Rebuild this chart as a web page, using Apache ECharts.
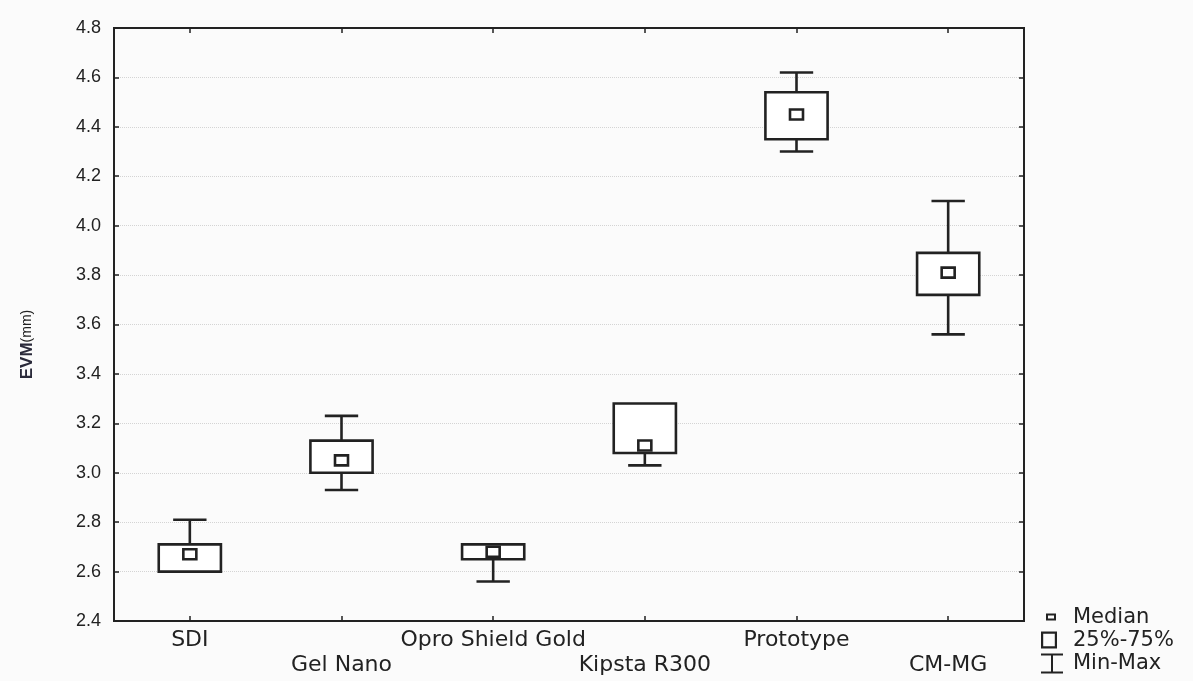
<!DOCTYPE html>
<html>
<head>
<meta charset="utf-8">
<script src="https://cdn.jsdelivr.net/npm/echarts@6/dist/echarts.min.js"></script>
<style>
html,body{margin:0;padding:0;background:#fbfbfb;}
#chart{width:1193px;height:681px;}
</style>
</head>
<body>
<div id="chart"></div>
<script>
const categories = ['SDI', 'Gel Nano', 'Opro Shield Gold', 'Kipsta R300', 'Prototype', 'CM-MG'];
const minVals    = [2.60, 2.93, 2.56, 3.03, 4.30, 3.56];
const q1Vals     = [2.60, 3.00, 2.65, 3.08, 4.35, 3.72];
const medianVals = [2.67, 3.05, 2.68, 3.11, 4.45, 3.81];
const q3Vals     = [2.71, 3.13, 2.71, 3.28, 4.54, 3.89];
const maxVals    = [2.81, 3.23, 2.71, 3.28, 4.62, 4.10];
const yTicks = { min: 2.4, max: 4.8, interval: 0.2 };

const INK = '#222';
const LW = 2.6;

const boxData = categories.map((c, i) => [i, q1Vals[i], q3Vals[i]]);
const whiskerData = categories.map((c, i) => [i, minVals[i], q1Vals[i], q3Vals[i], maxVals[i]]);
const medianData = categories.map((c, i) => [i, medianVals[i]]);

function renderBox(params, api) {
  const i = api.value(0);
  const top = api.coord([i, api.value(2)]);
  const bot = api.coord([i, api.value(1)]);
  const w = api.size([1, 0])[0] * 0.41;
  return {
    type: 'rect',
    shape: { x: top[0] - w / 2, y: top[1], width: w, height: bot[1] - top[1] },
    style: { fill: '#fff', stroke: INK, lineWidth: LW }
  };
}

function renderWhisker(params, api) {
  const i = api.value(0);
  const pMin = api.coord([i, api.value(1)]);
  const pQ1 = api.coord([i, api.value(2)]);
  const pQ3 = api.coord([i, api.value(3)]);
  const pMax = api.coord([i, api.value(4)]);
  const cw = api.size([1, 0])[0] * 0.22;
  const x = pMin[0];
  const children = [];
  const st = { stroke: INK, lineWidth: LW, fill: 'none' };
  if (api.value(4) > api.value(3)) {
    children.push({ type: 'line', shape: { x1: x, y1: pQ3[1], x2: x, y2: pMax[1] }, style: st });
    children.push({ type: 'line', shape: { x1: x - cw / 2, y1: pMax[1], x2: x + cw / 2, y2: pMax[1] }, style: st });
  }
  if (api.value(1) < api.value(2)) {
    children.push({ type: 'line', shape: { x1: x, y1: pQ1[1], x2: x, y2: pMin[1] }, style: st });
    children.push({ type: 'line', shape: { x1: x - cw / 2, y1: pMin[1], x2: x + cw / 2, y2: pMin[1] }, style: st });
  }
  return { type: 'group', children: children };
}

function renderMedian(params, api) {
  const i = api.value(0);
  const p = api.coord([i, api.value(1)]);
  const w = 13, h = 10;
  return {
    type: 'rect',
    shape: { x: p[0] - w / 2, y: p[1] - h / 2, width: w, height: h },
    style: { fill: '#fff', stroke: INK, lineWidth: LW }
  };
}

const chart = echarts.init(document.getElementById('chart'));
const font = 'Liberation Sans, Arial, sans-serif';
const wideFont = 'DejaVu Sans, Liberation Sans, sans-serif';

chart.setOption({
  backgroundColor: '#fbfbfb',
  animation: false,
  textStyle: { fontFamily: font },
  grid: { left: 114, right: 169, top: 28, bottom: 60, show: true, borderColor: INK, borderWidth: 2, backgroundColor: 'transparent' },
  legend: {
    orient: 'vertical',
    left: 1040,
    top: 607,
    height: 72,
    itemWidth: 28,
    itemHeight: 20,
    itemGap: 2,
    padding: 0,
    textStyle: { fontSize: 21, lineHeight: 20, color: '#222', fontFamily: wideFont },
    data: [
      { name: 'Median', icon: 'path://M0,0L0,0M28,20L28,20M6,6H16V13H6Z M8,8V11H14V8Z' },
      { name: '25%-75%', icon: 'path://M0,0L0,0M28,20L28,20M1,1H17V18H1Z M3.2,3.2V15.8H14.8V3.2Z' },
      { name: 'Min-Max', icon: 'path://M0,0L0,0M28,20L28,20M1,0H23V2H13V18H23V20H1V18H11V2H1Z' }
    ]
  },
  xAxis: [
    {
      type: 'category',
      data: categories,
      boundaryGap: true,
      axisLine: { show: true, lineStyle: { color: INK, width: 2 } },
      axisTick: { show: true, inside: true, alignWithLabel: true, length: 5, lineStyle: { color: INK, width: 1.5 } },
      axisLabel: {
        interval: 0,
        margin: 7,
        fontSize: 22,
        lineHeight: 25,
        color: '#222',
        fontFamily: wideFont,
        formatter: function (v, i) { return i % 2 ? '\n' + v : v; }
      },
      splitLine: { show: false }
    },
    {
      type: 'category',
      data: categories,
      position: 'top',
      boundaryGap: true,
      axisLine: { show: true, lineStyle: { color: INK, width: 2 } },
      axisTick: { show: true, inside: true, alignWithLabel: true, length: 5, lineStyle: { color: INK, width: 1.5 } },
      axisLabel: { show: false }
    }
  ],
  yAxis: [
    {
      type: 'value',
      min: yTicks.min,
      max: yTicks.max,
      interval: yTicks.interval,
      name: '{a|EVM}{b|(mm)}',
      nameLocation: 'middle',
      nameGap: 78,
      nameRotate: 90,
      nameTextStyle: {
        color: '#222', fontFamily: font, padding: [0, 40, 0, 0],
        rich: {
          a: { fontSize: 17, fontWeight: 'bold', color: '#2a2a3a', fontFamily: font },
          b: { fontSize: 14, color: '#222', fontFamily: font }
        }
      },
      axisLine: { show: true, lineStyle: { color: INK, width: 2 } },
      axisTick: { show: true, inside: true, length: 5, lineStyle: { color: INK, width: 1.5 } },
      axisLabel: { fontSize: 18, color: '#222', margin: 13, fontFamily: font, formatter: v => v.toFixed(1) },
      splitLine: { show: true, lineStyle: { color: '#d4d4d4', type: 'dotted', width: 1 } }
    },
    {
      type: 'value',
      position: 'right',
      min: yTicks.min,
      max: yTicks.max,
      interval: yTicks.interval,
      axisLine: { show: true, lineStyle: { color: INK, width: 2 } },
      axisTick: { show: true, inside: true, length: 5, lineStyle: { color: INK, width: 1.5 } },
      axisLabel: { show: false },
      splitLine: { show: false }
    }
  ],
  series: [
    {
      name: 'Min-Max',
      type: 'custom',
      renderItem: renderWhisker,
      data: whiskerData,
      encode: { x: 0, y: [1, 4] },
      itemStyle: { color: INK },
      z: 2
    },
    {
      name: '25%-75%',
      type: 'custom',
      renderItem: renderBox,
      data: boxData,
      encode: { x: 0, y: [1, 2] },
      itemStyle: { color: INK },
      z: 3
    },
    {
      name: 'Median',
      type: 'custom',
      renderItem: renderMedian,
      data: medianData,
      encode: { x: 0, y: 1 },
      itemStyle: { color: INK },
      z: 4
    }
  ]
});
</script>
</body>
</html>
